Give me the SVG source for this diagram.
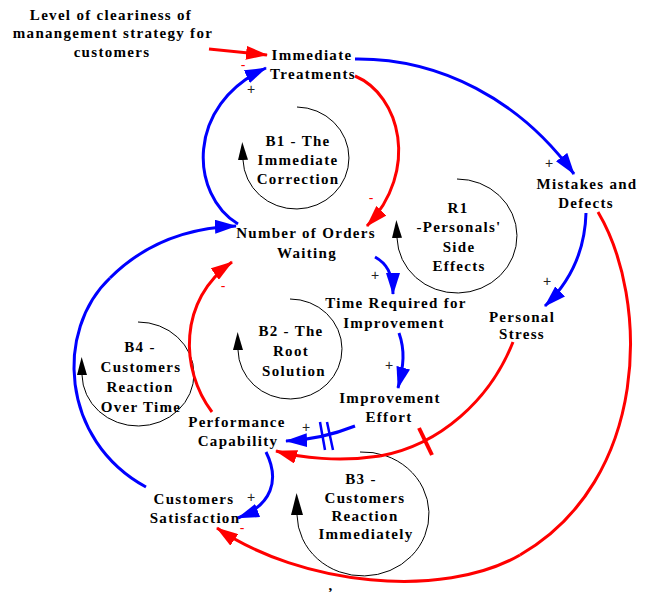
<svg xmlns="http://www.w3.org/2000/svg" width="649" height="592" viewBox="0 0 649 592">
  <style>
    .lbl { font-family: "Liberation Serif", "Times New Roman", serif; font-weight: bold; font-size: 15px; letter-spacing: 1.3px; fill: #000; text-anchor: middle; }
    .pos { font-family: "Liberation Sans", Arial, sans-serif; font-size: 14px; fill: #222; text-anchor: middle; }
    .neg { font-family: "Liberation Sans", Arial, sans-serif; font-size: 14px; fill: #f00; text-anchor: middle; }
    .red { fill: none; stroke: #f00; stroke-width: 3; marker-end: url(#ah-red); }
    .blue { fill: none; stroke: #00f; stroke-width: 3; marker-end: url(#ah-blue); }
    .loop { fill: none; stroke: #000; stroke-width: 1; marker-end: url(#ah-loop); }
  </style>
  <defs>
    <marker id="ah-red" markerUnits="userSpaceOnUse" markerWidth="22" markerHeight="14" refX="21" refY="7" orient="auto">
      <path d="M0,0 L22,7 L0,14 z" fill="#f00"/>
    </marker>
    <marker id="ah-blue" markerUnits="userSpaceOnUse" markerWidth="22" markerHeight="14" refX="21" refY="7" orient="auto">
      <path d="M0,0 L22,7 L0,14 z" fill="#00f"/>
    </marker>
    <marker id="ah-loop" markerUnits="userSpaceOnUse" markerWidth="18" markerHeight="10" refX="0" refY="5" orient="auto">
      <path d="M0,0 L18,5 L0,10 z" fill="#000"/>
    </marker>
    <marker id="ah-loop-big" markerUnits="userSpaceOnUse" markerWidth="22" markerHeight="12" refX="0" refY="6" orient="auto">
      <path d="M0,0 L22,6 L0,12 z" fill="#000"/>
    </marker>
  </defs>

  <!-- loop markers -->
  <g id="loops">
    <g id="loop-b1">
      <path class="loop" d="M297,107 A53,51 0 1 1 243,160"/>
      <text class="lbl" x="298" y="146">B1 - The</text>
      <text class="lbl" x="298" y="165">Immediate</text>
      <text class="lbl" x="298" y="184">Correction</text>
    </g>
    <g id="loop-r1">
      <path class="loop" d="M457,179 A60,57 0 1 1 397,238"/>
      <text class="lbl" x="458" y="213">R1</text>
      <text class="lbl" x="459" y="232">-Personals'</text>
      <text class="lbl" x="459" y="252">Side</text>
      <text class="lbl" x="459" y="271">Effects</text>
    </g>
    <g id="loop-b2">
      <path class="loop" d="M290,299 A52,50 0 1 1 238,350"/>
      <text class="lbl" x="291" y="336">B2 - The</text>
      <text class="lbl" x="291" y="356">Root</text>
      <text class="lbl" x="294" y="376">Solution</text>
    </g>
    <g id="loop-b4">
      <path class="loop" d="M138,322 A56,52 0 1 1 82,375"/>
      <text class="lbl" x="140" y="352">B4 -</text>
      <text class="lbl" x="141" y="372">Customers</text>
      <text class="lbl" x="140" y="392">Reaction</text>
      <text class="lbl" x="141" y="412">Over Time</text>
    </g>
    <g id="loop-b3">
      <path d="M360,452 A66,62 0 1 1 297,515" fill="none" stroke="#000" stroke-width="1" marker-end="url(#ah-loop-big)"/>
      <text class="lbl" x="361" y="484">B3 -</text>
      <text class="lbl" x="365" y="503">Customers</text>
      <text class="lbl" x="365" y="521">Reaction</text>
      <text class="lbl" x="366" y="539">Immediately</text>
    </g>
  </g>

  <!-- causal links -->
  <g id="connectors">
    <path class="red" d="M209,49 L267,55"/>
    <path class="blue" d="M238,224 C190,195 185,105 266,68"/>
    <path class="red" d="M355,76 C400,95 420,170 367,226"/>
    <path class="blue" d="M355,59 C440,58 520,100 574,174"/>
    <path class="blue" d="M586,213 C585,250 572,280 545,306"/>
    <path fill="none" stroke="#f00" stroke-width="3" d="M598,212 C650,300 650,480 520,555"/>
    <path class="red" d="M520,555 C442,600 300,585 217,528"/>
    <path class="blue" d="M375,257 C386,263 393,273 393,294"/>
    <path class="blue" d="M399,333 C405,350 404,365 398,388"/>
    <path class="blue" d="M355,426 C330,436 310,440 286,441"/>
    <path fill="none" stroke="#00f" stroke-width="2.5" d="M320,422 L325,450 M327,422 L333,450"/>
    <path fill="none" stroke="#f00" stroke-width="3" d="M513,342 C490,400 440,445 380,456"/>
    <path class="red" d="M380,456 C340,462 300,458 276,451"/>
    <path fill="none" stroke="#f00" stroke-width="4" d="M419,428 L432,455"/>
    <path class="red" d="M212,412 C180,370 178,300 232,262"/>
    <path fill="none" stroke="#00f" stroke-width="3" d="M146,487 C60,440 55,330 110,278"/>
    <path class="blue" d="M110,278 C140,248 180,228 236,226"/>
    <path class="blue" d="M266,452 C280,480 272,505 238,518"/>
  </g>

  <!-- polarity signs -->
  <g id="signs">
    <text class="neg" x="243" y="70">-</text>
    <text class="pos" x="251" y="94">+</text>
    <text class="neg" x="371" y="203">-</text>
    <text class="pos" x="549" y="168">+</text>
    <text class="pos" x="547" y="286">+</text>
    <text class="pos" x="375" y="280">+</text>
    <text class="pos" x="389" y="370">+</text>
    <text class="neg" x="223" y="291">-</text>
    <text class="pos" x="306" y="432">+</text>
    <text class="pos" x="251" y="502">+</text>
    <text class="neg" x="242" y="533">-</text>
  </g>

  <!-- variables -->
  <g id="node-clearness">
    <text class="lbl" x="111" y="20">Level of cleariness of</text>
    <text class="lbl" x="113" y="38">manangement strategy for</text>
    <text class="lbl" x="112" y="57">customers</text>
  </g>
  <g id="node-immediate-treatments">
    <text class="lbl" x="312" y="60">Immediate</text>
    <text class="lbl" x="313" y="79">Treatments</text>
  </g>
  <g id="node-orders-waiting">
    <text class="lbl" x="306" y="238">Number of Orders</text>
    <text class="lbl" x="307" y="258">Waiting</text>
  </g>
  <g id="node-mistakes">
    <text class="lbl" x="587" y="189">Mistakes and</text>
    <text class="lbl" x="586" y="208">Defects</text>
  </g>
  <g id="node-personal-stress">
    <text class="lbl" x="522" y="322">Personal</text>
    <text class="lbl" x="522" y="339">Stress</text>
  </g>
  <g id="node-time-required">
    <text class="lbl" x="396" y="308">Time Required for</text>
    <text class="lbl" x="394" y="328">Improvement</text>
  </g>
  <g id="node-improvement-effort">
    <text class="lbl" x="390" y="403">Improvement</text>
    <text class="lbl" x="389" y="422">Effort</text>
  </g>
  <g id="node-performance">
    <text class="lbl" x="237" y="427">Performance</text>
    <text class="lbl" x="238" y="446">Capability</text>
  </g>
  <g id="node-satisfaction">
    <text class="lbl" x="194" y="504">Customers</text>
    <text class="lbl" x="195" y="523">Satisfaction</text>
  </g>
  <text class="lbl" x="331" y="590">,</text>
</svg>
